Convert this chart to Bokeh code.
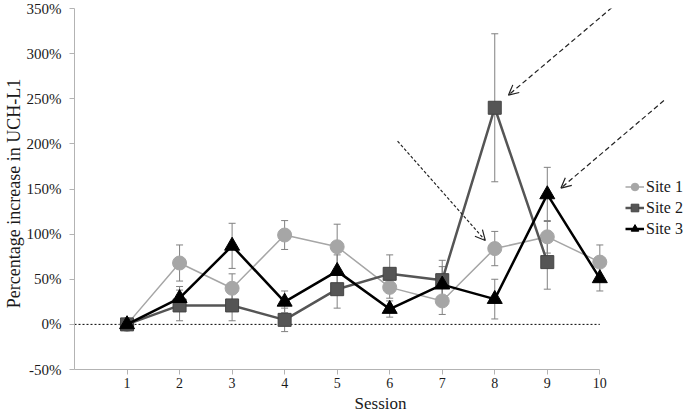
from bokeh.plotting import figure
from bokeh.models import (Range1d, FixedTicker, PrintfTickFormatter, Whisker, ColumnDataSource,
                          Legend, LegendItem, Arrow, OpenHead, TeeHead)
from bokeh.embed import file_html
from bokeh.resources import INLINE

# ---- data ----
sessions = [1, 2, 3, 4, 5, 6, 7, 8, 9, 10]
site1 = [0, 68, 40, 99, 86, 41, 26, 84, 97, 69]
site1_err = [0, 20, 16, 16, 25, 12, 15, 19, 18, 19]
site2_sessions = [1, 2, 3, 4, 5, 6, 7, 8, 9]
site2 = [0, 21, 21, 5, 39, 56, 49, 240, 69]
site2_err = [0, 17, 17, 13, 21, 21, 22, 82, 30]
site3 = [0, 29, 87, 25, 59, 17, 44, 28, 144, 51]
site3_err = [0, 13, 25, 12, 18, 9, 20, 22, 30, 14]
y_ticks = [-50, 0, 50, 100, 150, 200, 250, 300, 350]
x_ticks = sessions
baseline_x = [0, 10]
baseline_y = [0, 0]
# annotation arrows (data units): start -> end
arrow_x_start = [6.15, 10.23, 11.22]
arrow_y_start = [203, 351, 248]
arrow_x_end = [7.82, 8.26, 9.26]
arrow_y_end = [93, 254, 151]
arrow_dash = ["3 2", "5 3", "5 3"]

FONT = "Liberation Serif"

p = figure(width=686, height=415, output_backend="svg", toolbar_location=None,
           x_range=Range1d(0, 11.65), y_range=Range1d(-50, 350),
           min_border_left=73, min_border_right=0, min_border_top=8, min_border_bottom=46)
p.outline_line_color = None
p.xgrid.visible = False
p.ygrid.visible = False

axis_color = "#b3b3b3"
for ax in (p.xaxis[0], p.yaxis[0]):
    ax.axis_line_color = axis_color
    ax.major_tick_line_color = axis_color
    ax.minor_tick_line_color = None
    ax.major_tick_in = 0
    ax.major_tick_out = 5
    ax.major_label_text_font = FONT
    ax.major_label_text_color = "#1a1a1a"
    ax.axis_label_text_font = FONT
    ax.axis_label_text_font_style = "normal"
    ax.axis_label_text_color = "#1a1a1a"

p.xaxis.ticker = FixedTicker(ticks=x_ticks)
p.xaxis.bounds = (0, 10)
p.xaxis.axis_label = "Session"
p.xaxis.major_label_text_font_size = "14px"
p.xaxis.axis_label_text_font_size = "17px"
p.xaxis.major_label_standoff = 3
p.xaxis.axis_label_standoff = 3

p.yaxis.ticker = FixedTicker(ticks=y_ticks)
p.yaxis.formatter = PrintfTickFormatter(format="%d%%")
p.yaxis.major_label_text_font_size = "15px"
p.yaxis.axis_label = "Percentage  increase  in UCH-L1"
p.yaxis.axis_label_text_font_size = "18px"
p.yaxis.major_label_standoff = 8
p.yaxis.axis_label_standoff = 0

# zero reference line
p.line(baseline_x, baseline_y, line_color="#000000", line_width=1, line_dash="2 2")

def add_err(xs, ys, errs):
    src = ColumnDataSource(dict(x=xs, lower=[y - e for y, e in zip(ys, errs)],
                                upper=[y + e for y, e in zip(ys, errs)]))
    w = Whisker(source=src, base="x", lower="lower", upper="upper", dimension="height",
                line_color="#808080", line_width=1,
                upper_head=TeeHead(size=7, line_color="#808080", line_width=1),
                lower_head=TeeHead(size=7, line_color="#808080", line_width=1),
                level="underlay")
    p.add_layout(w)

add_err(sessions, site1, site1_err)
add_err(site2_sessions, site2, site2_err)
add_err(sessions, site3, site3_err)

c1, c2, c3 = "#a6a6a6", "#555555", "#000000"
l1 = p.line(sessions, site1, line_color=c1, line_width=1.5)
m1 = p.scatter(sessions, site1, marker="circle", size=14, fill_color=c1, line_color=c1)
l2 = p.line(site2_sessions, site2, line_color=c2, line_width=2.5)
m2 = p.scatter(site2_sessions, site2, marker="square", size=13, fill_color=c2, line_color="#444444")
l3 = p.line(sessions, site3, line_color=c3, line_width=2.5)
m3 = p.scatter(sessions, site3, marker="triangle", size=15, fill_color=c3, line_color=c3)

for xs, ys, xe, ye, d in zip(arrow_x_start, arrow_y_start, arrow_x_end, arrow_y_end, arrow_dash):
    p.add_layout(Arrow(x_start=xs, y_start=ys, x_end=xe, y_end=ye,
                       line_color="#222222", line_width=1.2, line_dash=d,
                       end=OpenHead(size=10, line_color="#222222", line_width=1.2)))

legend = Legend(items=[LegendItem(label="Site 1", renderers=[l1, m1]),
                       LegendItem(label="Site 2", renderers=[l2, m2]),
                       LegendItem(label="Site 3", renderers=[l3, m3])],
                location=(551, 130), orientation="vertical",
                label_text_font=FONT, label_text_font_size="16px", label_text_color="#1a1a1a",
                glyph_width=19, glyph_height=21, label_height=21, label_standoff=2,
                spacing=0, padding=0, margin=0,
                border_line_color=None, background_fill_alpha=0)
p.add_layout(legend, "center")

open("out.html", "w").write(file_html(p, INLINE))
